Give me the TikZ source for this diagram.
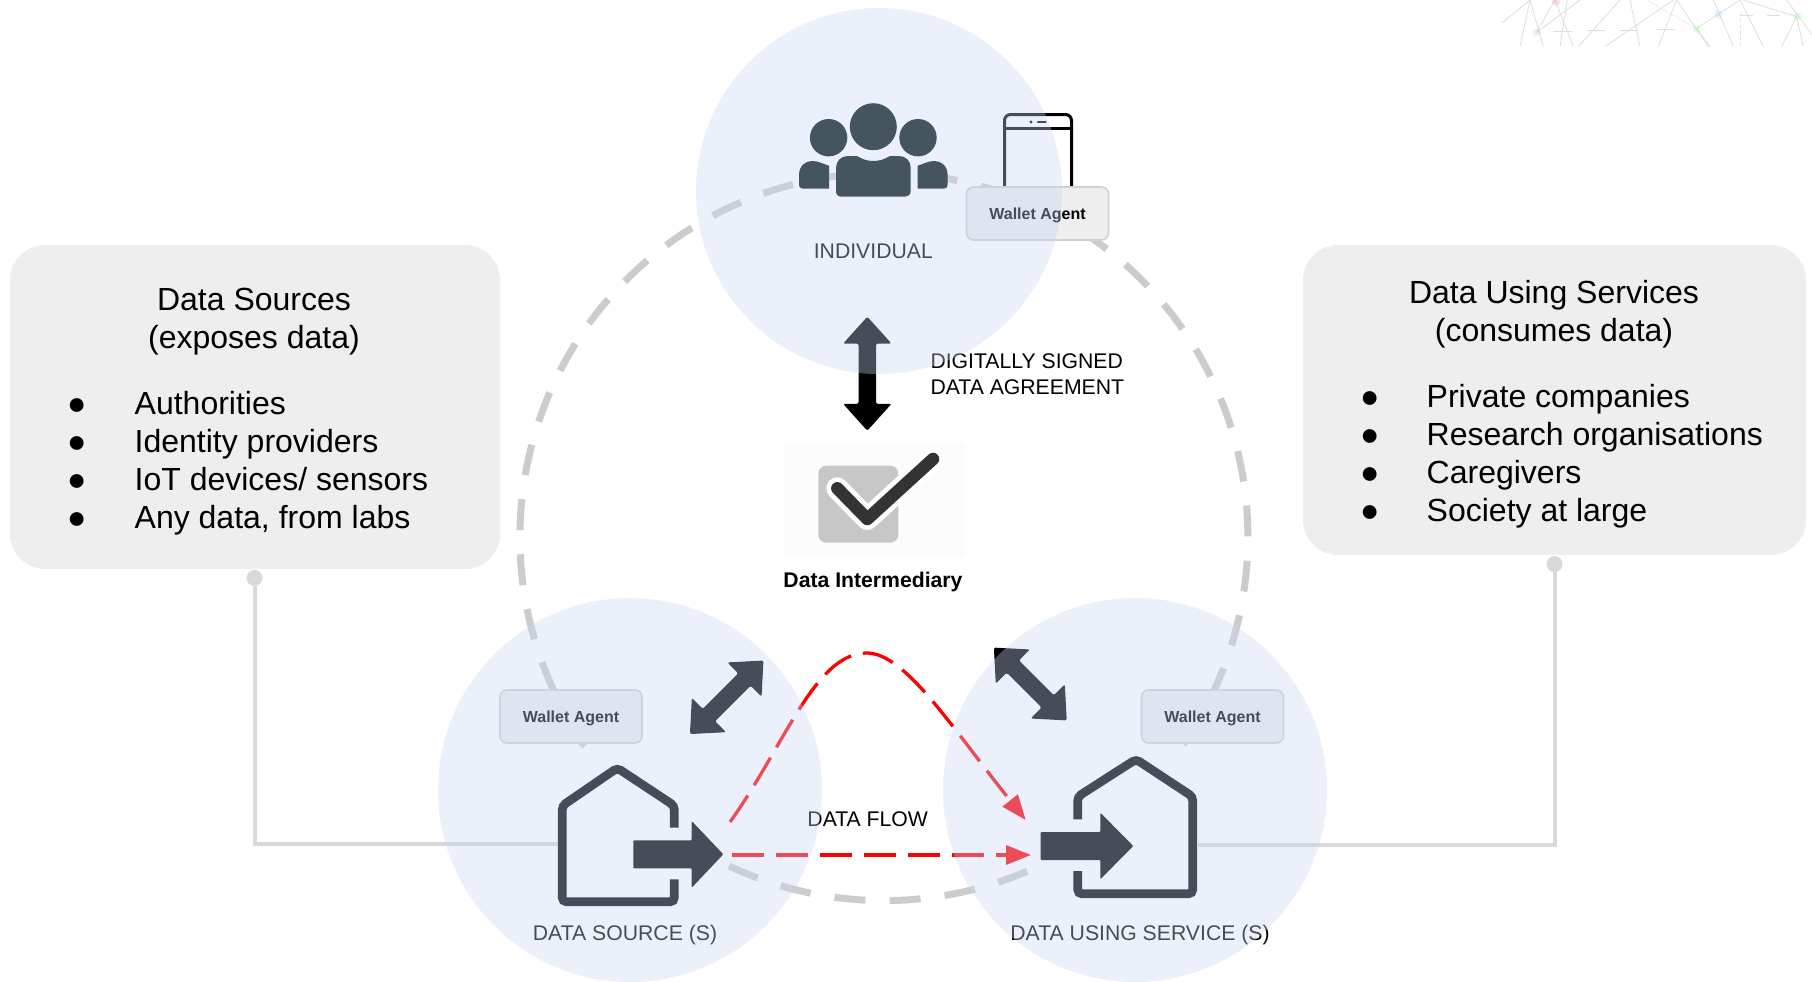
\documentclass[tikz,border=0pt]{standalone}
\usepackage{fontspec}
\setmainfont{Liberation Sans}
\usepackage{tikz}
\usetikzlibrary{calc}
\usetikzlibrary{arrows.meta}
\usetikzlibrary{shapes.arrows}
\definecolor{zoneblue}{RGB}{199,214,244}
\definecolor{boxgrey}{RGB}{238,238,238}
\definecolor{peoplecol}{RGB}{69,85,96}
\tikzset{
  zone/.style={circle, inner sep=0pt, fill=zoneblue, fill opacity=0.36},
  infobox/.style={rounded corners=35pt, fill=boxgrey},
  wallet/.style={draw=black!18, line width=1.6pt, fill=boxgrey, rounded corners=7pt, minimum width=142pt, minimum height=53pt, inner sep=0pt, font=\fontsize{16}{19}\selectfont\bfseries},
  bigarrow/.style={double arrow, fill=black, inner xsep=0pt, inner ysep=8.5pt, minimum height=#1, double arrow head extend=15.5pt, double arrow tip angle=84, rounded corners=2pt},
  ring/.style={draw=black!20, line width=7pt, dash pattern=on 31pt off 24.25pt},
  link/.style={draw=black!15, line width=4pt},
  redflow/.style={draw=red, line width=3.3pt, dash pattern=on 32pt off 12pt, -{Triangle[length=25pt,width=19pt]}},
  house/.style={line width=8.7pt, rounded corners=4pt},
  lbl/.style={font=\fontsize{21.2}{26}\selectfont, inner sep=0pt},
  title/.style={font=\fontsize{32}{38}\selectfont, align=center, inner sep=0pt},
  item/.style={font=\fontsize{32}{38}\selectfont, anchor=base west, inner sep=0pt},
  faint/.style={draw=black!13, line width=.8pt}
}

\begin{document}
\begin{tikzpicture}[x=1pt,y=-1pt]
\useasboundingbox (0,0) rectangle (1812,982);

\begin{scope}[shift={(1480,0)},x=.3333pt,y=-.3333pt]
\foreach \a/\b/\c/\d in {67/68/150/0,120/140/150/0,150/0/190/140,170/97/300/0,170/97/225/0,240/140/262/0,225/0/280/140,295/140/420/0,375/140/580/0,450/0/480/140,535/140/590/0,590/0/685/140,650/85/780/0,650/85/690/140,700/0/760/140,780/0/850/140,790/0/950/50,950/50/970/140,950/50/905/140,920/0/1000/110,220/95/275/95,320/92/375/92,420/90/475/90,530/88/585/88,780/45/820/45,860/47/900/47}
  \draw[faint] (\a,\b) -- (\c,\d);
\draw[faint, dashed] (780,40) -- (780,140);
\draw[faint, densely dotted] (500,0) -- (650,85);
\foreach \a/\b/\col in {170/97/cyan,228/5/red,650/87/green,715/43/cyan,953/50/green}
  \fill[\col, opacity=0.12] (\a,\b) circle (12);
\end{scope}

\draw[ring, dash phase=39.25pt] (590.2,752) arc[start angle=143.8, end angle=396.2, radius=364];
\draw[ring] (729,866) arc[start angle=115.2, end angle=65.5, radius=364];

\fill[infobox] (10,245) rectangle (500,569);
\fill[infobox] (1303,245) rectangle (1806,555);
\node[title] (srctitle) at (254,321.5) {Data Sources\\(exposes data)};
\node[title] (usetitle) at (1554,314.5) {Data Using Services\\(consumes data)};
\foreach \i/\y/\t in {1/414/Authorities,2/452.5/Identity providers,3/490.6/{IoT devices/ sensors},4/528.7/{Any data, from labs}} {
  \node[item] (srcbullet\i) at (67,\y) {●};
  \node[item] (srcitem\i) at (134.5,\y) {\t};
}
\foreach \i/\y/\t in {1/407/Private companies,2/445/Research organisations,3/483/Caregivers,4/521/Society at large} {
  \node[item] (usebullet\i) at (1360,\y) {●};
  \node[item] (useitem\i) at (1426.5,\y) {\t};
}

\coordinate (srcdot) at (254.5,578);
\coordinate (usedot) at (1554.5,564);
\coordinate (srcwall) at (558,844);
\coordinate (usewall) at (1198,845);
\fill[black!15] (srcdot) circle (8);
\fill[black!15] (usedot) circle (8);
\draw[link] (srcdot) |- (srcwall);
\draw[link] (usedot) |- (usewall);

\draw[line width=3pt, rounded corners=6pt] (1004.5,190) -- (1004.5,114.5) -- (1071.5,114.5) -- (1071.5,190);
\draw[line width=2.5pt] (1004.5,128.3) -- (1071.5,128.3);
\fill (1031,122) circle (1.6);
\draw[line width=2.8pt, line cap=round] (1038,122) -- (1045.5,122);

\fill[black!18] (577,743) -- (588,743) -- (582.7,748.5) -- cycle;
\node[wallet] (indwallet) at (1037.5,213.5) {\raisebox{-5.5pt}[0pt][0pt]{Wallet Agent}};
\node[wallet] (srcwallet) at (571,716.5) {\raisebox{-5.5pt}[0pt][0pt]{Wallet Agent}};
\node[wallet] (usewallet) at (1212.5,716.5) {\raisebox{-5.5pt}[0pt][0pt]{Wallet Agent}};

\node[bigarrow=114pt, rotate=90] (signarrow) at (867.3,373.7) {};
\node[bigarrow=104pt, rotate=45] (srcarrow) at (726.7,697.3) {};
\node[bigarrow=103pt, rotate=-45] (usearrow) at (1030.3,684) {};

\draw[house] (674.3,879.3) -- (674.3,901.7) -- (562.3,901.7) -- (562.3,805.7) -- (617.3,768) -- (674.3,805.7) -- (674.3,827.7);
\fill[rounded corners=1pt] (633.3,840.3) -- (691.7,840.3) -- (691.7,821) -- (723.3,854.3) -- (691.7,887.7) -- (691.7,868.3) -- (633.3,868.3) -- cycle;
\draw[house] (1077.7,871) -- (1077.7,893.7) -- (1192.7,893.7) -- (1192.7,796.7) -- (1136,759.3) -- (1077.7,796.7) -- (1077.7,819.3);
\fill[rounded corners=1pt] (1040.7,832) -- (1100.3,832) -- (1100.3,812.7) -- (1133.3,846) -- (1100.3,879.3) -- (1100.3,860) -- (1040.7,860) -- cycle;

\coordinate (flowstart) at (731.7,855);
\coordinate (flowend) at (1031,855);
\coordinate (curvestart) at (730,822);
\coordinate (curvetop) at (866.7,653);
\coordinate (curveend) at (1025.7,820);
\draw[redflow] (flowstart) -- (flowend);
\draw[redflow] (curvestart) .. controls (785,745) and (815,653) .. (curvetop) .. controls (905,653) and (950,725) .. (curveend);

\node[lbl, anchor=base] (indlabel) at (873.3,258) {INDIVIDUAL};
\node[lbl, anchor=west, align=left] (signlabel) at (930.3,374.5) {DIGITALLY SIGNED\\DATA AGREEMENT};
\node[lbl, anchor=base] (flowlabel) at (867.7,826.5) {DATA FLOW};
\node[lbl, anchor=base] (srclabel) at (625,940) {DATA SOURCE (S)};
\node[lbl, anchor=base] (uselabel) at (1140,940) {DATA USING SERVICE (S)};

\node[zone, minimum size=366pt] (individual) at (879,191) {};
\node[zone, minimum size=384pt] (source) at (630,790) {};
\node[zone, minimum size=384pt] (service) at (1135,790) {};

\fill[peoplecol] (873.3,126.7) circle (23.5);
\fill[peoplecol] (842,196.7) .. controls (838,196.7) and (836,194.7) .. (836,191) -- (836,168) .. controls (836,161) and (841,156) .. (848,156) -- (857,156) .. controls (862,159) and (867,161) .. (873.3,161) .. controls (880,161) and (885,159) .. (890,156) -- (899,156) .. controls (906,156) and (910.7,161) .. (910.7,168) -- (910.7,191) .. controls (910.7,194.7) and (908,196.7) .. (905,196.7) -- cycle;
\foreach \flip in {1,-1} {
  \begin{scope}[shift={(873.3,0)},xscale=\flip]
  \fill[peoplecol] (-44.7,137.7) circle (18.7);
  \fill[peoplecol] (-44.3,188.7) -- (-70.3,188.7) .. controls (-73,188.7) and (-74.3,187) .. (-74.3,185) -- (-74.3,175) .. controls (-74.3,166) and (-68,161) .. (-61.3,161) .. controls (-55,161) and (-50,164) .. (-44.3,165.7) -- cycle;
  \end{scope}
}

\fill[black!1] (783,443) rectangle (965,557);
\fill[black!22, rounded corners=8pt] (818.3,465.7) rectangle (898.3,542.7);
\draw[white, line width=22pt, line cap=round, line join=round] (837.3,488.3) -- (867.3,519) -- (933,459);
\draw[black!80, line width=12.5pt, line cap=round, line join=round] (837.3,488.3) -- (867.3,519) -- (933,459);
\node[lbl, font=\fontsize{21.2}{25}\selectfont\bfseries] (interlabel) at (873,582) {Data Intermediary};
\end{tikzpicture}
\end{document}
